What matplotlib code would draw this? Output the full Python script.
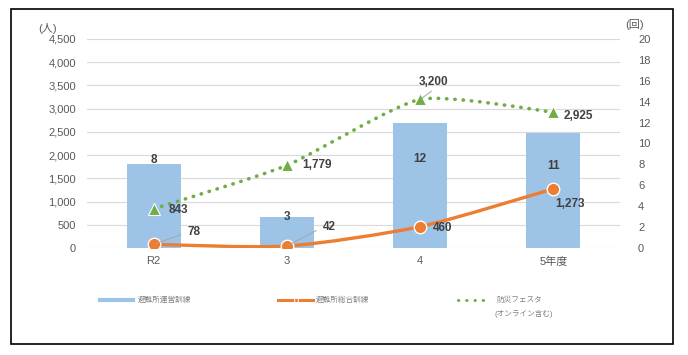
import matplotlib
matplotlib.use("Agg")
import matplotlib.pyplot as plt
from matplotlib.path import Path
from matplotlib.patches import PathPatch, Rectangle
from matplotlib.lines import Line2D
from matplotlib.ticker import FuncFormatter
import numpy as np

plt.rcParams['font.family'] = ['Liberation Sans', 'Noto Sans CJK JP', 'DejaVu Sans']

categories = ['R2', '3', '4', '5年度']
unei_counts = [8, 3, 12, 11]          # 避難所運営訓練 (回)
sogo_people = [78, 42, 460, 1273]      # 避難所総合訓練 (人)
festa_people = [843, 1779, 3200, 2925] # 防災フェスタ (人)
left_ticks = list(range(0, 4501, 500))
right_ticks = list(range(0, 21, 2))
legend_labels = ['避難所運営訓練', '避難所総合訓練', '防災フェスタ\n(オンライン含む)']

C_BAR = '#9DC3E6'
C_OR = '#ED7D31'
C_GR = '#70AD47'
C_TXT = '#595959'
C_LAB = '#404040'

fig = plt.figure(figsize=(6.88, 3.55), dpi=100)
fig.patches.append(Rectangle((11/688, 1-344/355), 662/688, 335/355, transform=fig.transFigure,
                             fill=False, edgecolor='black', linewidth=1.2, zorder=0))

axb = fig.add_axes([87/688, 1-248/355, 533/688, 209/355])
axl = axb.twinx()
x = np.arange(len(categories))

# bars on right axis scale
axb.bar(x, unei_counts, width=0.405, color=C_BAR, zorder=2)
axb.set_ylim(0, 20)
axb.set_xlim(-0.5, len(categories) - 0.5)
axb.yaxis.tick_right()
axb.set_yticks(right_ticks)
axl.yaxis.tick_left()
axl.set_ylim(0, 4500)
axl.set_yticks(left_ticks)
axl.yaxis.set_major_formatter(FuncFormatter(lambda v, p: f'{int(v):,}'))
for a in (axb, axl):
    for s in a.spines.values():
        s.set_visible(False)
    a.tick_params(length=0, labelsize=8, labelcolor=C_TXT)
axb.tick_params(axis='y', pad=13)
axl.tick_params(axis='y', pad=8)
axb.set_xticks(x)
axb.set_xticklabels(categories)
axb.tick_params(axis='x', pad=6)
# gridlines from left axis drawn behind bars
for v in left_ticks:
    axb.axhline(v / 4500 * 20, color='#D9D9D9', lw=0.8, zorder=1)
axb.set_zorder(1)
axl.set_zorder(2)
axl.patch.set_visible(False)


def smooth_path(xs, ys, k=0.1):
    pts = np.column_stack([xs, ys]).astype(float)
    verts = [pts[0]]
    codes = [Path.MOVETO]
    n = len(pts)
    for i in range(n - 1):
        p0 = pts[i - 1] if i > 0 else pts[i]
        p1 = pts[i]
        p2 = pts[i + 1]
        p3 = pts[i + 2] if i + 2 < n else pts[i + 1]
        c1 = p1 + (p2 - p0) * k
        c2 = p2 - (p3 - p1) * k
        verts += [c1, c2, p2]
        codes += [Path.CURVE4] * 3
    return Path(verts, codes)

axl.add_patch(PathPatch(smooth_path(x, festa_people), fill=False, edgecolor=C_GR, lw=2.6,
                        linestyle=(0, (0.1, 2.2)), capstyle='round', zorder=3))
axl.add_patch(PathPatch(smooth_path(x, sogo_people, 0.12), fill=False, edgecolor=C_OR, lw=2.4,
                        capstyle='round', zorder=4))
axl.plot(x, festa_people, linestyle='none', marker='^', ms=9, color=C_GR, mec='white', mew=0.8, zorder=5)
axl.plot(x, sogo_people, linestyle='none', marker='o', ms=9, color=C_OR, mec='white', mew=1.0, zorder=6)

pt = 0.72  # points per pixel
lab_kw = dict(fontsize=8.5, fontweight='bold', color=C_LAB, zorder=7)
# bar labels
bar_off = [4, 0, -36, -33]
for xi, v, dy in zip(x, unei_counts, bar_off):
    axb.annotate(str(v), (xi, v), xytext=(0, dy * pt), textcoords='offset points',
                 ha='center', va='center', **lab_kw)

# festa labels (dx, dy in px; dy positive = up), leader flag
festa_off = [(15, -1, False), (15, 0, False), (-1, 17, True), (10, -4, False)]
for xi, v, (dx, dy, lead) in zip(x, festa_people, festa_off):
    if lead:
        axl.annotate(f'{v:,}', (xi, v), xytext=(dx * pt, dy * pt), textcoords='offset points',
                     ha='left', va='center',
                     arrowprops=dict(arrowstyle='-', color='#A6A6A6', lw=0.7, shrinkA=0, shrinkB=1,
                                     relpos=(0.55, 0.0)), **lab_kw)
    else:
        axl.annotate(f'{v:,}', (xi, v), xytext=(dx * pt, dy * pt), textcoords='offset points',
                     ha='left', va='center', **lab_kw)

sogo_off = [(34, 12, True), (36, 19, True), (13, -1, False), (2, -15, False)]
for xi, v, (dx, dy, lead) in zip(x, sogo_people, sogo_off):
    if lead:
        axl.annotate(f'{v:,}', (xi, v), xytext=(dx * pt, dy * pt), textcoords='offset points',
                     ha='left', va='center',
                     arrowprops=dict(arrowstyle='-', color='#A6A6A6', lw=0.7, shrinkA=3, shrinkB=2,
                                     relpos=(0.0, 0.5)), **lab_kw)
    else:
        axl.annotate(f'{v:,}', (xi, v), xytext=(dx * pt, dy * pt), textcoords='offset points',
                     ha='left', va='center', **lab_kw)

# unit labels
fig.text(48/688, 1-28/355, '(人)', ha='center', va='center', fontsize=8, color=C_TXT)
fig.text(635/688, 1-24/355, '(回)', ha='center', va='center', fontsize=8, color=C_TXT)

# legend
ly = 1 - 300/355
fig.lines.append(Line2D([100/688, 133/688], [ly, ly], transform=fig.transFigure, color=C_BAR, lw=3))
fig.text(138/688, ly, legend_labels[0], ha='left', va='center', fontsize=5.5, color='#808080')
fig.lines.append(Line2D([278/688, 313/688], [ly, ly], transform=fig.transFigure, color=C_OR, lw=2.2))
fig.lines.append(Line2D([295.5/688], [ly], transform=fig.transFigure, color=C_OR, marker='o', ms=3,
                        mec='white', mew=0.6, linestyle='none'))
fig.text(316/688, ly, legend_labels[1], ha='left', va='center', fontsize=5.5, color='#808080')
fig.lines.append(Line2D([458/688, 490/688], [ly, ly], transform=fig.transFigure, color=C_GR, lw=2.2,
                        linestyle=(0, (0.1, 2.6)), dash_capstyle='round', solid_capstyle='round'))
l1, l2 = legend_labels[2].split('\n')
fig.text(496/688, ly, l1, ha='left', va='center', fontsize=5.5, color='#808080')
fig.text(495/688, 1 - 314/355, l2, ha='left', va='center', fontsize=5.5, color='#808080')

fig.savefig('out.png', dpi=100)
